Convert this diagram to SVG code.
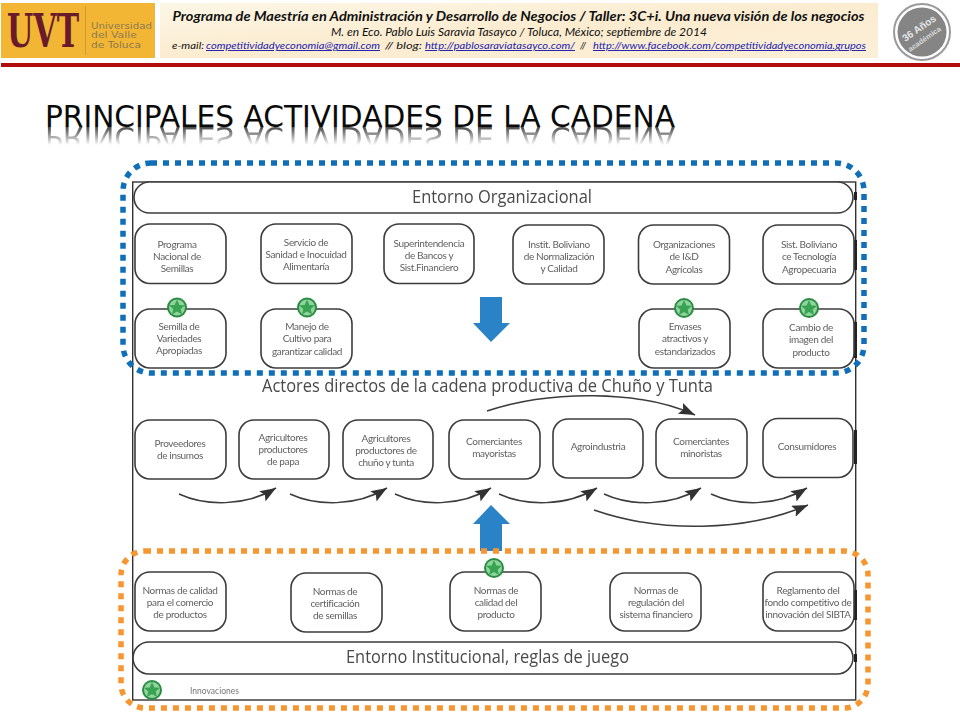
<svg xmlns="http://www.w3.org/2000/svg" width="960" height="720" viewBox="0 0 960 720">
<style>
text{font-family:"Lato","Open Sans","Liberation Sans",sans-serif}
.box{fill:#fff;stroke:#3c3c3c;stroke-width:1.6}
.lbl{font-size:10px;fill:#5f5f5f;text-anchor:middle;letter-spacing:-0.35px}
.big{fill:#4a4a4a}
.uni{font-size:8.200px;fill:#8d7a52}
.hd{font-style:italic;fill:#111}
.lnk{fill:#1a1ab0;text-decoration:underline;font-style:italic;font-size:9.5px}
.curve{fill:none;stroke:#3c3c3c;stroke-width:1.5;marker-end:url(#ah)}
.blue{fill:#2b83c6}
</style>
<defs>
<marker id="ah" markerUnits="userSpaceOnUse" markerWidth="18" markerHeight="14" refX="16" refY="6" orient="auto"><path d="M0 0L16 6L0 12L3 6Z" fill="#333"/></marker>
<linearGradient id="cream" x1="0" x2="1" y1="0" y2="1"><stop offset="0" stop-color="#fdf6e6"/><stop offset="0.5" stop-color="#fbecd0"/><stop offset="1" stop-color="#fcefd8"/></linearGradient>
<linearGradient id="fade" x1="0" x2="0" y1="127" y2="145" gradientUnits="userSpaceOnUse"><stop offset="0" stop-color="#fff" stop-opacity="0.75"/><stop offset="1" stop-color="#fff" stop-opacity="0"/></linearGradient>
<mask id="refl" maskUnits="userSpaceOnUse" x="40" y="125" width="640" height="25"><rect x="40" y="125" width="640" height="25" fill="url(#fade)"/></mask>
<g id="star"><circle r="10" fill="#2a8c42"/><circle r="8" fill="#8fd49d"/><path d="M0-8L2.4-2.6 8-2.2 3.7 1.6 5 7 0 4.1-5 7-3.7 1.6-8-2.2-2.4-2.6Z" fill="#39a352"/></g>
<filter id="soft" x="-2%" y="-2%" width="104%" height="104%"><feGaussianBlur stdDeviation="0.35"/></filter>
</defs>
<rect width="960" height="720" fill="#fff"/>

<g id="header">
<g id="logo">
<rect x="1" y="3" width="154" height="55" fill="#f3b634"/>
<text transform="translate(7 47) scale(0.655 1)" font-size="46" font-weight="700" fill="#6a1b2b" style="font-family:'DejaVu Serif',serif">UVT</text>
<line x1="85.5" y1="6" x2="85.5" y2="55" stroke="#c99a38"/>
<text class="uni" x="91" y="28.700" textLength="61" lengthAdjust="spacingAndGlyphs" style="font-family:'DejaVu Sans',sans-serif">Universidad</text>
<text class="uni" x="91" y="38.300" textLength="46" lengthAdjust="spacingAndGlyphs" style="font-family:'DejaVu Sans',sans-serif">del Valle</text>
<text class="uni" x="91" y="47.900" textLength="50" lengthAdjust="spacingAndGlyphs" style="font-family:'DejaVu Sans',sans-serif">de Toluca</text>
</g>
<rect x="160" y="3" width="718" height="55" fill="url(#cream)"/>
<text class="hd" x="172.5" y="21" font-size="13" font-weight="700" textLength="692" lengthAdjust="spacingAndGlyphs">Programa de Maestría en Administración y Desarrollo de Negocios / Taller: 3C+i. Una nueva visión de los negocios</text>
<text class="hd" x="331" y="36" font-size="11" textLength="376" lengthAdjust="spacingAndGlyphs">M. en Eco. Pablo Luis Saravia Tasayco / Toluca, México; septiembre de 2014</text>
<text class="hd" x="172" y="49" font-size="9.500" textLength="32" lengthAdjust="spacingAndGlyphs">e-mail:</text>
<text class="lnk" x="206" y="49" textLength="174" lengthAdjust="spacingAndGlyphs">competitividadyeconomia@gmail.com</text>
<text class="hd" x="385" y="49" font-size="9.500" textLength="37" lengthAdjust="spacingAndGlyphs">// blog:</text>
<text class="lnk" x="425" y="49" textLength="150" lengthAdjust="spacingAndGlyphs">http://pablosaraviatasayco.com/</text>
<text class="hd" x="580" y="49" font-size="9.500">//</text>
<text class="lnk" x="593" y="49" textLength="273" lengthAdjust="spacingAndGlyphs">http://www.facebook.com/competitividadyeconomia.grupos</text>
<rect x="1" y="63" width="959" height="4" fill="#b00d0d"/>
<g id="seal">
<circle cx="922" cy="32" r="28" fill="#fff" stroke="#9a9a9a" stroke-width="2"/>
<circle cx="922" cy="32" r="24.500" fill="#858585"/>
<text x="921" y="31" font-size="10" font-weight="700" fill="#e6e6e6" text-anchor="middle" transform="rotate(-35 921 31)" style="font-family:'Liberation Sans',sans-serif">36 Años</text>
<text x="926" y="41" font-size="7.500" font-weight="700" fill="#d8d8d8" text-anchor="middle" transform="rotate(-35 926 41)" style="font-family:'Liberation Sans',sans-serif">académica</text>
</g>
</g>

<text id="title" x="45" y="127" font-size="30" fill="#0b0b0b" textLength="630" lengthAdjust="spacingAndGlyphs" style="font-family:'DejaVu Sans',sans-serif">PRINCIPALES ACTIVIDADES DE LA CADENA</text>
<g mask="url(#refl)"><use href="#title" transform="translate(0 254) scale(1 -1)"/></g>

<g id="chart" filter="url(#soft)">
<rect id="frame" x="132.7" y="182" width="723" height="518" fill="#fff" stroke="#333" stroke-width="1.4"/>
<path id="frame-marks" d="M855.500 240V270M855.500 322V358M855.500 430V464M855.500 590V620M855.500 192V200M855.500 654V662" stroke="#222" stroke-width="3" fill="none"/>

<g id="entorno-org"><rect class="box" x="134" y="182" width="719" height="31" rx="15.500"/><text class="big" x="412" y="203" font-size="18" textLength="180" lengthAdjust="spacingAndGlyphs" style="font-family:'Open Sans',sans-serif">Entorno Organizacional</text></g>

<g id="n-programa"><rect class="box" x="135" y="224" width="91" height="59.500" rx="15"/><text class="lbl" x="177" y="248">Programa</text><text class="lbl" x="177" y="259.500">Nacional de</text><text class="lbl" x="177" y="272">Semillas</text></g>
<g id="n-servicio"><rect class="box" x="261" y="224" width="91" height="59.500" rx="15"/><text class="lbl" x="306" y="246">Servicio de</text><text class="lbl" x="306" y="257.500">Sanidad e Inocuidad</text><text class="lbl" x="306" y="269.500">Alimentaría</text></g>
<g id="n-super"><rect class="box" x="384" y="224" width="90" height="59.500" rx="15"/><text class="lbl" x="429" y="247">Superintendencia</text><text class="lbl" x="429" y="259">de Bancos y</text><text class="lbl" x="429" y="271">Sist.Financiero</text></g>
<g id="n-instit"><rect class="box" x="513" y="225" width="91" height="59" rx="15"/><text class="lbl" x="559" y="248">Instit. Boliviano</text><text class="lbl" x="559" y="259.500">de Normalización</text><text class="lbl" x="559" y="272">y Calidad</text></g>
<g id="n-organizaciones"><rect class="box" x="638.500" y="225" width="91" height="59" rx="15"/><text class="lbl" x="684" y="248">Organizaciones</text><text class="lbl" x="684" y="260">de I&amp;D</text><text class="lbl" x="684" y="273">Agrícolas</text></g>
<g id="n-sist"><rect class="box" x="763" y="225" width="91" height="59" rx="15"/><text class="lbl" x="809" y="248">Sist. Boliviano</text><text class="lbl" x="809" y="260">ce Tecnología</text><text class="lbl" x="809" y="273">Agropecuaria</text></g>

<g id="n-semilla"><rect class="box" x="135" y="309" width="91" height="59" rx="15"/><use href="#star" x="177" y="307.500"/><text class="lbl" x="179" y="330">Semilla de</text><text class="lbl" x="179" y="342">Variedades</text><text class="lbl" x="179" y="354">Apropiadas</text></g>
<g id="n-manejo"><rect class="box" x="261" y="309" width="91" height="59" rx="15"/><use href="#star" x="307" y="307.500"/><text class="lbl" x="307" y="330">Manejo de</text><text class="lbl" x="307" y="342">Cultivo para</text><text class="lbl" x="307" y="355">garantizar calidad</text></g>
<g id="n-envases"><rect class="box" x="639" y="309" width="91" height="59" rx="15"/><use href="#star" x="684" y="308"/><text class="lbl" x="685" y="330">Envases</text><text class="lbl" x="685" y="342">atractivos y</text><text class="lbl" x="685" y="355">estandarizados</text></g>
<g id="n-cambio"><rect class="box" x="763" y="309" width="91" height="59" rx="15"/><use href="#star" x="809" y="308"/><text class="lbl" x="811" y="331">Cambio de</text><text class="lbl" x="811" y="343">imagen del</text><text class="lbl" x="811" y="356">producto</text></g>

<path id="down-arrow" class="blue" d="M480 297H502V323H510L491 342L473 323H480Z"/>

<text id="actores" class="big" x="262" y="392" font-size="18" textLength="451" lengthAdjust="spacingAndGlyphs" style="font-family:'Open Sans',sans-serif">Actores directos de la cadena productiva de Chuño y Tunta</text>

<g id="n-proveedores"><rect class="box" x="135" y="420" width="91" height="59" rx="15"/><text class="lbl" x="180" y="447">Proveedores</text><text class="lbl" x="180" y="459">de insumos</text></g>
<g id="n-agri-papa"><rect class="box" x="239" y="420" width="90" height="59" rx="15"/><text class="lbl" x="283" y="441">Agricultores</text><text class="lbl" x="283" y="453">productores</text><text class="lbl" x="283" y="465">de papa</text></g>
<g id="n-agri-chuno"><rect class="box" x="343" y="420" width="90" height="59" rx="15"/><text class="lbl" x="386" y="442">Agricultores</text><text class="lbl" x="386" y="454">productores de</text><text class="lbl" x="386" y="466">chuño y tunta</text></g>
<g id="n-mayoristas"><rect class="box" x="449" y="420" width="91" height="59" rx="15"/><text class="lbl" x="494" y="445">Comerciantes</text><text class="lbl" x="494" y="457">mayoristas</text></g>
<g id="n-agroindustria"><rect class="box" x="553" y="419" width="90" height="59" rx="15"/><text class="lbl" x="598" y="450">Agroindustria</text></g>
<g id="n-minoristas"><rect class="box" x="656" y="419" width="91" height="59" rx="15"/><text class="lbl" x="701" y="445">Comerciantes</text><text class="lbl" x="701" y="457">minoristas</text></g>
<g id="n-consumidores"><rect class="box" x="763" y="418.500" width="90" height="59" rx="15"/><text class="lbl" x="807" y="450">Consumidores</text></g>

<path id="up-arrow" class="blue" d="M491 505L510 524H502V551H480V524H473Z"/>

<g id="n-normas-com"><rect class="box" x="135" y="572" width="91" height="59" rx="15"/><text class="lbl" x="180" y="594">Normas de calidad</text><text class="lbl" x="180" y="606">para el comercio</text><text class="lbl" x="180" y="618">de productos</text></g>
<g id="n-normas-cert"><rect class="box" x="291" y="573" width="91" height="59" rx="15"/><text class="lbl" x="335" y="595">Normas de</text><text class="lbl" x="335" y="607">certificación</text><text class="lbl" x="335" y="619">de semillas</text></g>
<g id="n-normas-cal"><rect class="box" x="450" y="572" width="91" height="59" rx="15"/><use href="#star" x="494" y="568"/><text class="lbl" x="496" y="594">Normas de</text><text class="lbl" x="496" y="606">calidad del</text><text class="lbl" x="496" y="618">producto</text></g>
<g id="n-normas-reg"><rect class="box" x="610" y="573" width="91" height="58" rx="15"/><text class="lbl" x="656" y="594">Normas de</text><text class="lbl" x="656" y="606">regulación del</text><text class="lbl" x="656" y="618">sistema financiero</text></g>
<g id="n-reglamento"><rect class="box" x="763" y="572" width="91" height="59" rx="15"/><text class="lbl" x="808" y="594">Reglamento del</text><text class="lbl" x="808" y="606">fondo competitivo de</text><text class="lbl" x="808" y="618">innovación del SIBTA</text></g>

<g id="entorno-inst"><rect class="box" x="133" y="642" width="720" height="32" rx="16"/><text class="big" x="346" y="663" font-size="18" textLength="283" lengthAdjust="spacingAndGlyphs" style="font-family:'Open Sans',sans-serif">Entorno Institucional, reglas de juego</text></g>

<g id="legend"><use href="#star" x="152" y="690"/><text x="190" y="694" font-size="9.500" fill="#777" textLength="49" lengthAdjust="spacingAndGlyphs">Innovaciones</text></g>

<g id="connectors">
<path class="curve" d="M179 494C205 506 245 507 276 488"/>
<path class="curve" d="M290 494C316 506 356 507 387 488"/>
<path class="curve" d="M395 494C421 506 460 507 491 488"/>
<path class="curve" d="M499 494C525 506 566 507 597 488"/>
<path class="curve" d="M604 494C630 506 670 507 701 488"/>
<path class="curve" d="M711 494C737 506 776 507 807 488"/>
<path class="curve" d="M594 510C660 533 745 532 808 505"/>
<path class="curve" d="M487 411C550 390 640 390 695 415"/>
</g>
</g>

<rect id="dotted-blue" x="123" y="163" width="741" height="210" rx="28" fill="none" stroke="#0f6fb8" stroke-width="5.500" stroke-dasharray="6 6"/>
<rect id="dotted-orange" x="121" y="551" width="747" height="157" rx="24" fill="none" stroke="#f7952e" stroke-width="5.500" stroke-dasharray="6 6"/>
</svg>
